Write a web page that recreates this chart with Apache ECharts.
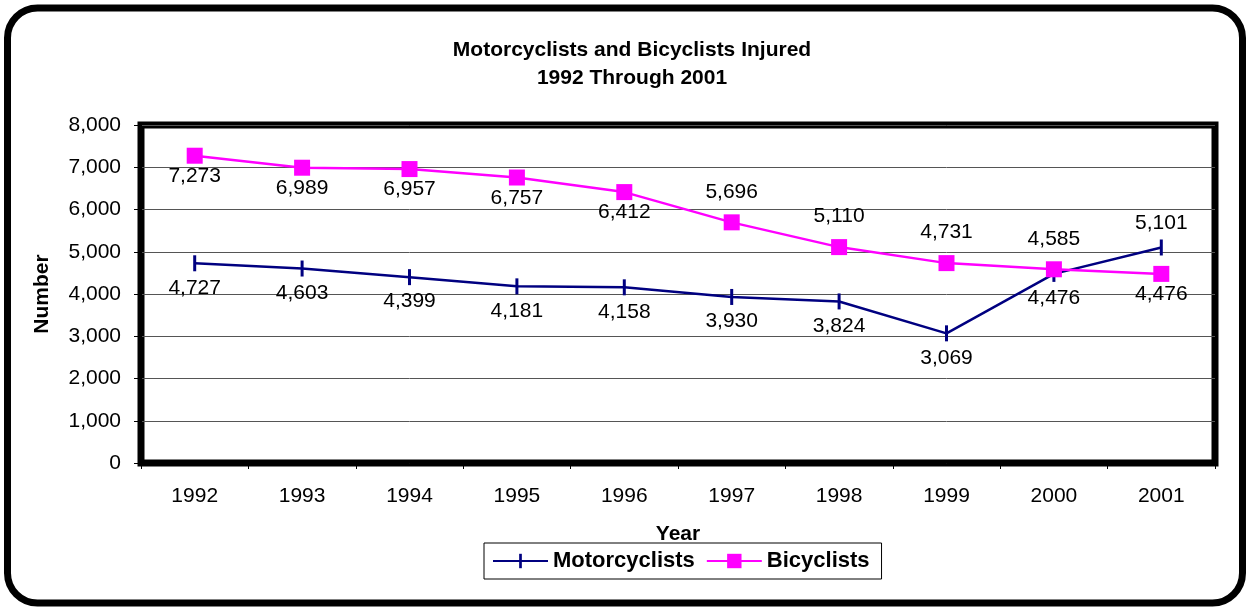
<!DOCTYPE html>
<html>
<head>
<meta charset="utf-8">
<script src="https://cdn.jsdelivr.net/npm/echarts@6/dist/echarts.min.js"></script>
<style>
  html, body { margin: 0; padding: 0; background: #fff; }
  #chart { width: 1246px; height: 607px; }
</style>
</head>
<body>
<div id="chart"></div>
<script>
// data
const years = ['1992', '1993', '1994', '1995', '1996', '1997', '1998', '1999', '2000', '2001'];
const motorcyclists = [4727, 4603, 4399, 4181, 4158, 3930, 3824, 3069, 4476, 5101];
const bicyclists = [7273, 6989, 6957, 6757, 6412, 5696, 5110, 4731, 4585, 4476];

const font = 'Liberation Sans, Arial, sans-serif';
const fmt = v => v.toLocaleString('en-US');
// vertical dash centred in an empty square box, so the legend icon keeps its shape
const tickSymbol = 'path://M0,0M6.5,0L9.5,0L9.5,16L6.5,16ZM16,16';

let option = {
  animation: false,
  title: {
    text: 'Motorcyclists and Bicyclists Injured\n1992 Through 2001',
    left: 627,
    top: 31,
    textAlign: 'center',
    textStyle: { fontFamily: font, fontWeight: 'bold', fontSize: 21, lineHeight: 28, color: '#000' }
  },
  graphic: [
    {
      type: 'rect',
      shape: { x: 7.5, y: 8, width: 1235, height: 595, r: 30 },
      style: { fill: 'none', stroke: '#000', lineWidth: 7 },
      z: 100
    }
  ],
  legend: {
    data: ['Motorcyclists', 'Bicyclists'],
    left: 484,
    top: 543,
    itemWidth: 55,
    itemHeight: 18,
    itemGap: 11,
    padding: [7, 12, 7, 8],
    borderColor: '#000',
    borderWidth: 1,
    textStyle: { fontFamily: font, fontWeight: 'bold', fontSize: 22, color: '#000' }
  },
  grid: {
    left: 141, top: 125, right: 31, bottom: 144,
    show: true, borderColor: '#000', borderWidth: 7
  },
  xAxis: {
    type: 'category',
    data: years,
    name: 'Year',
    nameLocation: 'middle',
    nameGap: 61,
    nameTextStyle: { fontFamily: font, fontWeight: 'bold', fontSize: 21, color: '#000' },
    axisLine: { lineStyle: { color: '#000', width: 1 } },
    axisTick: { show: true, length: 6, lineStyle: { color: '#000' } },
    axisLabel: { fontFamily: font, fontSize: 21, color: '#000', margin: 23 }
  },
  yAxis: {
    type: 'value',
    min: 0, max: 8000, interval: 1000,
    name: 'Number',
    nameLocation: 'middle',
    nameGap: 88,
    nameTextStyle: { fontFamily: font, fontWeight: 'bold', fontSize: 21, color: '#000' },
    axisLine: { show: true, lineStyle: { color: '#000' } },
    axisTick: { show: true, length: 7, lineStyle: { color: '#000' } },
    axisLabel: { fontFamily: font, fontSize: 21, color: '#000', margin: 20, formatter: fmt },
    splitLine: { lineStyle: { color: '#555', width: 1 } }
  },
  series: [
    {
      name: 'Motorcyclists',
      type: 'line',
      data: motorcyclists.map((v, i) => ({
        value: v,
        label: i === 9 ? { position: 'top', distance: 6 } : { position: 'bottom', distance: 6 }
      })),
      symbol: tickSymbol,
      symbolSize: 16,
      itemStyle: { color: '#000080', borderWidth: 0 },
      lineStyle: { color: '#000080', width: 2.5 },
      label: { show: true, fontFamily: font, fontSize: 21, color: '#000', formatter: p => fmt(p.value) }
    },
    {
      name: 'Bicyclists',
      type: 'line',
      data: bicyclists.map((v, i) => ({
        value: v,
        label: (i >= 5 && i <= 8) ? { position: 'top', distance: 12 } : { position: 'bottom', distance: 2 }
      })),
      symbol: 'rect',
      symbolSize: 16,
      itemStyle: { color: '#ff00ff', borderWidth: 0 },
      lineStyle: { color: '#ff00ff', width: 2.5 },
      label: { show: true, fontFamily: font, fontSize: 21, color: '#000', formatter: p => fmt(p.value) }
    }
  ]
};

let myChart = echarts.init(document.getElementById('chart'));
myChart.setOption(option);
window.onresize = myChart.resize;
</script>
</body>
</html>
